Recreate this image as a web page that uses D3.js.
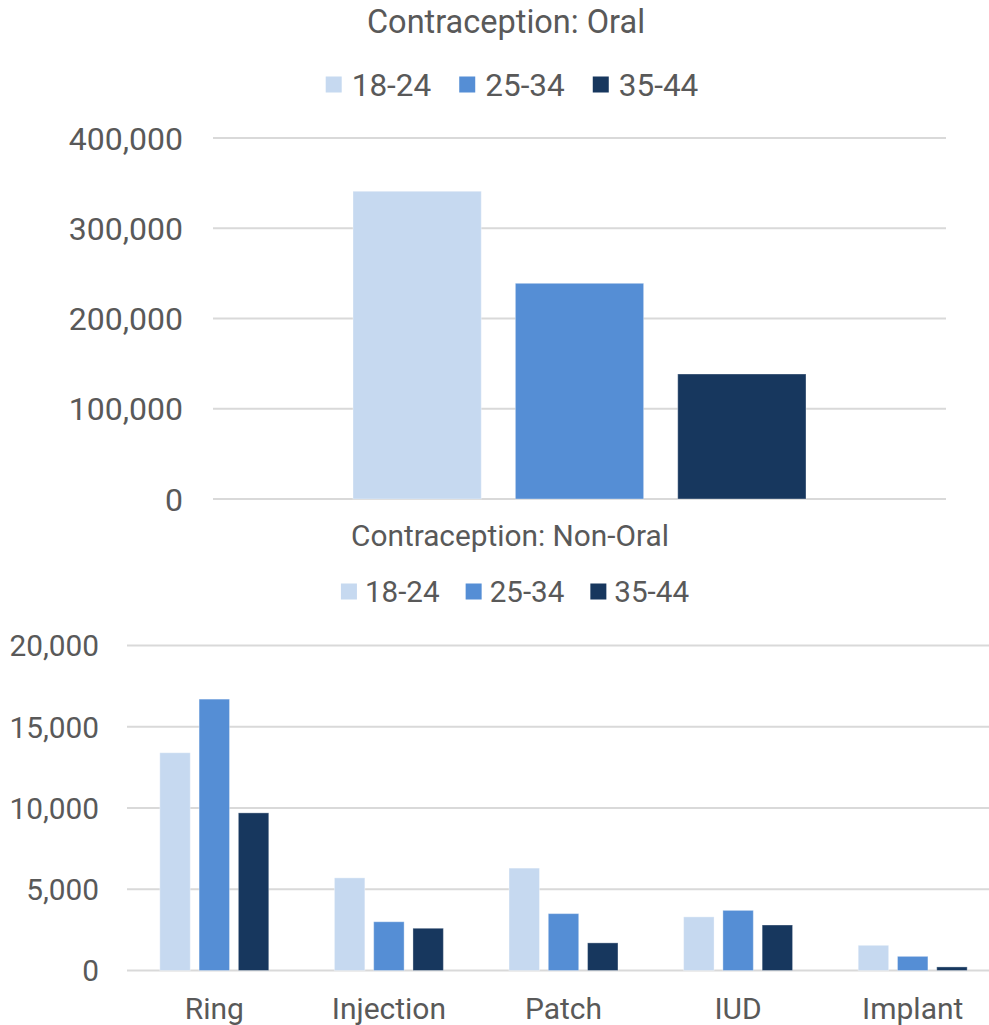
<!DOCTYPE html>
<html>
<head>
<meta charset="utf-8">
<script src="https://cdn.jsdelivr.net/npm/d3@7"></script>
<style>
html, body { margin: 0; padding: 0; background: #fff; }
svg { display: block; font-family: Roboto, "Noto Sans", sans-serif; }
</style>
</head>
<body>
<svg id="chart" width="989" height="1025"></svg>
<script>
// ---- data ----
const seriesNames = ["18-24", "25-34", "35-44"];
const seriesColors = ["#c6d9f0", "#558ed5", "#17375e"];

const oralCategories = ["Oral"];
const oral_18_24 = [341000];
const oral_25_34 = [239000];
const oral_35_44 = [138500];
const oralTicks = [0, 100000, 200000, 300000, 400000];

const nonOralCategories = ["Ring", "Injection", "Patch", "IUD", "Implant"];
const nonOral_18_24 = [13400, 5700, 6300, 3300, 1550];
const nonOral_25_34 = [16700, 3000, 3500, 3700, 870];
const nonOral_35_44 = [9700, 2600, 1700, 2800, 220];
const nonOralTicks = [0, 5000, 10000, 15000, 20000];

const textColor = "#595959";
const gridColor = "#d9d9d9";
const fmt = d3.format(",");

const svg = d3.select("#chart");

function drawChart(cfg) {
  const g = svg.append("g");
  const y = d3.scaleLinear().domain(cfg.domain).range([cfg.bottom, cfg.top]);
  const x0 = d3.scaleBand().domain(cfg.categories).range([cfg.left, cfg.right]).padding(0);
  const groupW = x0.bandwidth() * cfg.groupFrac;
  const x1 = d3.scaleBand().domain(seriesNames).range([0, groupW]).paddingInner(cfg.barPad).paddingOuter(0);
  const color = d3.scaleOrdinal().domain(seriesNames).range(seriesColors);

  // gridlines
  g.append("g").selectAll("line").data(cfg.ticks).join("line")
    .attr("x1", cfg.left).attr("x2", cfg.right)
    .attr("y1", d => y(d)).attr("y2", d => y(d))
    .attr("stroke", gridColor).attr("stroke-width", 2);

  // y axis labels
  const yAxis = d3.axisLeft(y).tickValues(cfg.ticks).tickFormat(fmt).tickSize(0).tickPadding(0);
  const ya = g.append("g").attr("transform", `translate(${cfg.labelRight},0)`).call(yAxis);
  ya.select(".domain").remove();
  ya.selectAll("text").attr("fill", textColor).attr("font-size", cfg.axisFont)
    .attr("font-family", "Roboto").attr("dy", "0.35em");

  // bars
  const rows = cfg.categories.map((c, i) => ({
    cat: c,
    vals: seriesNames.map((s, j) => ({ s, v: cfg.series[j][i] }))
  }));
  const grp = g.append("g").selectAll("g").data(rows).join("g")
    .attr("transform", d => `translate(${x0(d.cat) + (x0.bandwidth() - groupW) / 2},0)`);
  grp.selectAll("rect").data(d => d.vals).join("rect")
    .attr("x", d => x1(d.s))
    .attr("width", x1.bandwidth())
    .attr("y", d => y(d.v))
    .attr("height", d => y(0) - y(d.v))
    .attr("fill", d => color(d.s))
    .attr("stroke", "rgba(255,255,255,0.35)").attr("stroke-width", 1);

  // category labels
  if (cfg.showCats) {
    const xAxis = d3.axisBottom(x0).tickSize(0).tickPadding(0);
    const xa = g.append("g").attr("transform", `translate(0,${cfg.catY})`).call(xAxis);
    xa.select(".domain").remove();
    xa.selectAll("text").attr("fill", textColor).attr("font-size", cfg.catFont)
      .attr("font-family", "Roboto").attr("dy", 0);
  }

  // title
  g.append("text").attr("x", cfg.titleX).attr("y", cfg.titleY)
    .attr("text-anchor", "middle").attr("fill", textColor)
    .attr("font-size", cfg.titleFont).text(cfg.title);

  // legend
  const lg = g.append("g");
  const items = lg.selectAll("g").data(seriesNames).join("g");
  items.append("rect")
    .attr("width", cfg.sw).attr("height", cfg.sw)
    .attr("y", cfg.legendY - cfg.sw / 2)
    .attr("fill", d => color(d));
  items.append("text")
    .attr("y", cfg.legendY).attr("dy", "0.35em")
    .attr("fill", textColor).attr("font-size", cfg.legendFont)
    .text(d => d);
  let xpos = 0;
  items.each(function () {
    const t = d3.select(this).select("text");
    d3.select(this).select("rect").attr("x", xpos);
    t.attr("x", xpos + cfg.sw + cfg.swGap);
    xpos += cfg.sw + cfg.swGap + t.node().getComputedTextLength() + cfg.itemGap;
  });
  const totalW = xpos - cfg.itemGap;
  lg.attr("transform", `translate(${cfg.legendCX - totalW / 2},0)`);
}

drawChart({
  title: "Contraception: Oral",
  categories: oralCategories,
  series: [oral_18_24, oral_25_34, oral_35_44],
  ticks: oralTicks,
  domain: [0, 400000],
  top: 138, bottom: 499,
  left: 213, right: 946,
  labelRight: 183,
  groupFrac: 0.618, barPad: 0.21,
  axisFont: 32, titleFont: 32.5, legendFont: 31.5,
  titleX: 506, titleY: 33,
  legendCX: 512, legendY: 84.5, sw: 16, swGap: 10, itemGap: 28,
  showCats: false
});

drawChart({
  title: "Contraception: Non-Oral",
  categories: nonOralCategories,
  series: [nonOral_18_24, nonOral_25_34, nonOral_35_44],
  ticks: nonOralTicks,
  domain: [0, 20000],
  top: 645.5, bottom: 970.5,
  left: 127, right: 1000,
  labelRight: 99,
  groupFrac: 0.624, barPad: 0.225,
  axisFont: 29.8, titleFont: 29.8, legendFont: 29.6, catFont: 30,
  titleX: 510, titleY: 546,
  legendCX: 515, legendY: 591.5, sw: 16, swGap: 8, itemGap: 26,
  showCats: true, catY: 1019
});
</script>
</body>
</html>
